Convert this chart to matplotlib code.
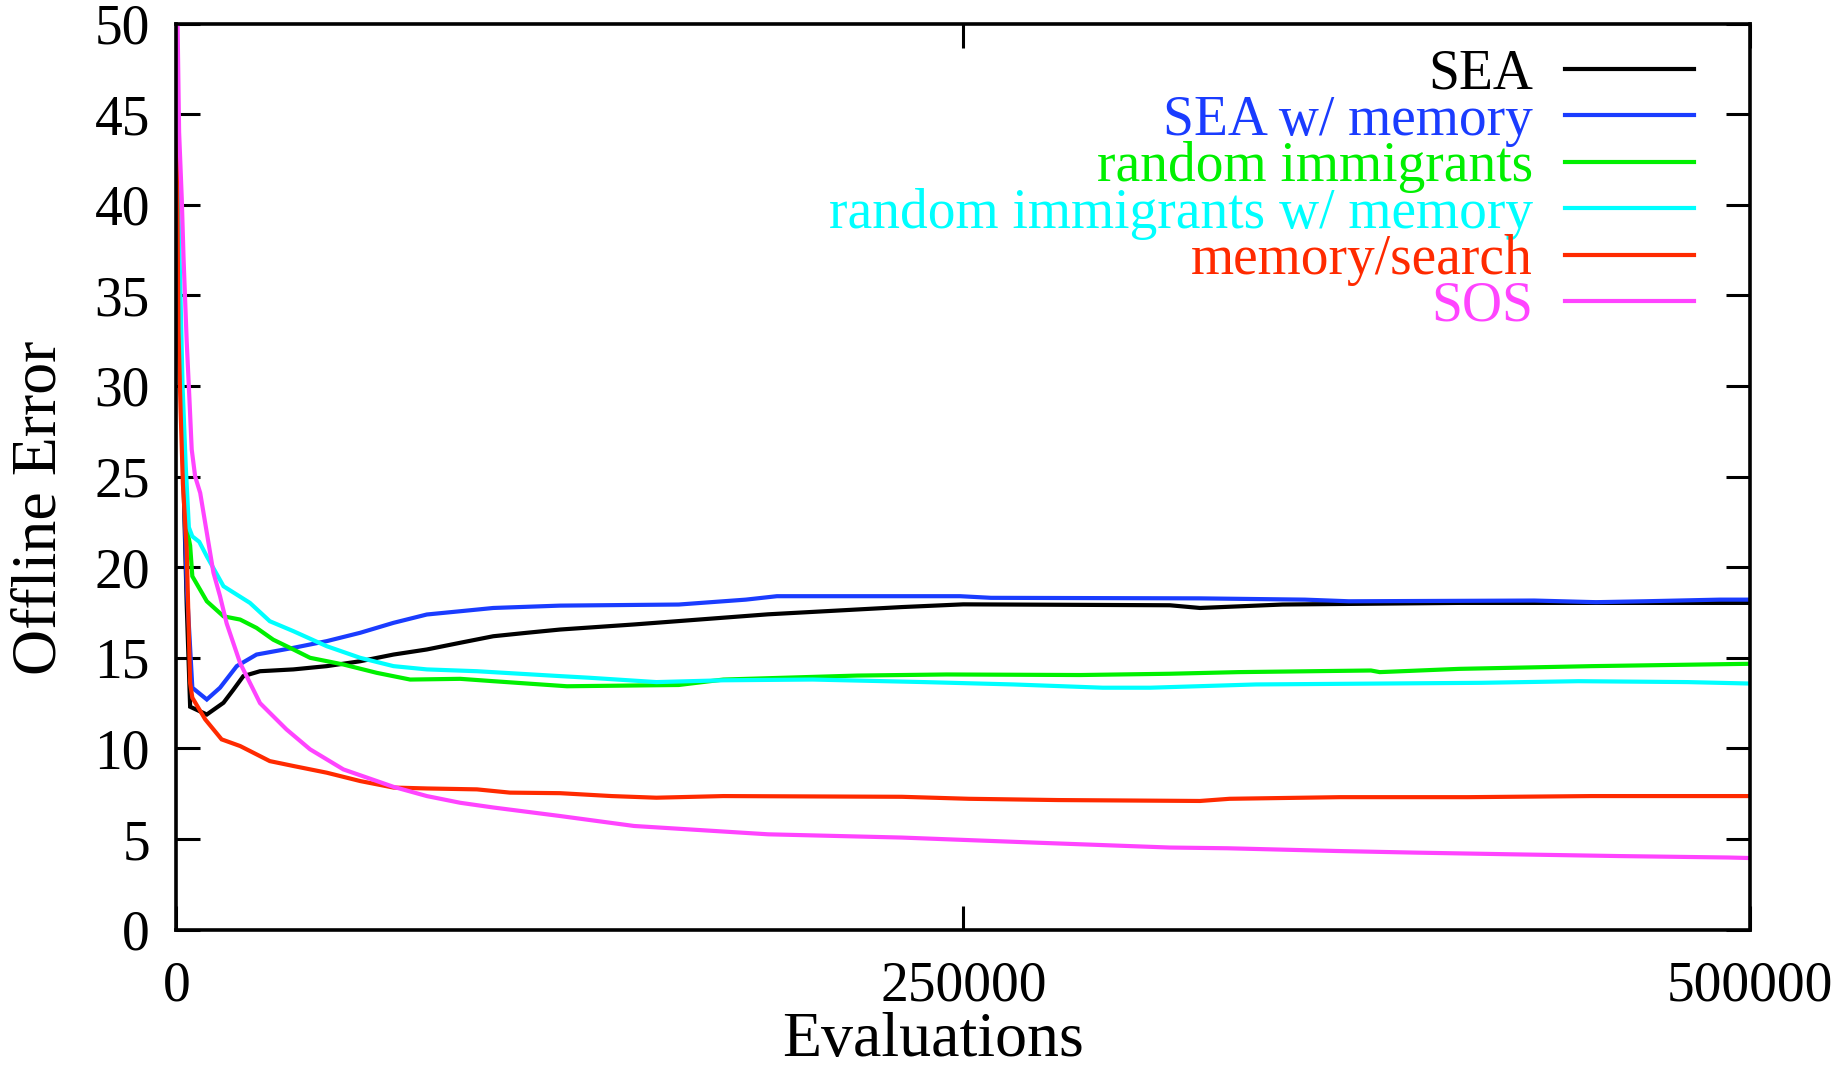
import numpy as np
import matplotlib
matplotlib.use("Agg")
from matplotlib import pyplot as plt

plt.rcParams['font.family'] = ['Liberation Serif', 'DejaVu Serif']

# offline error curves, sampled at uneven evaluation counts
sea_x = [0, 1500, 3300, 4400, 9700, 15000, 18100, 21300, 26600, 37200, 47800, 58400, 69000,
         79600, 90200, 100700, 111300, 121900, 145400, 188000, 230500, 250000, 315600, 325200,
         351400, 407500, 500000]
sea_y = [43, 30, 18, 12.3, 11.87, 12.52, 13.23, 13.99, 14.26, 14.36, 14.54, 14.81, 15.18,
         15.46, 15.83, 16.19, 16.38, 16.56, 16.84, 17.4, 17.8, 17.95, 17.9, 17.75,
         17.94, 18.03, 18.03]

mem_x = [0, 1500, 3300, 5100, 9700, 13900, 19200, 25500, 37200, 47800, 58400, 69000, 79600,
         90200, 100700, 121900, 159600, 180900, 190800, 249000, 258800, 325200, 358500,
         372500, 431400, 451000, 466400, 490300, 500000]
mem_y = [43, 30, 19, 13.35, 12.7, 13.35, 14.54, 15.18, 15.55, 15.92, 16.38, 16.93, 17.39,
         17.57, 17.75, 17.88, 17.94, 18.21, 18.4, 18.4, 18.31, 18.28, 18.21,
         18.12, 18.16, 18.07, 18.12, 18.21, 18.21]

ri_x = [0, 2000, 3500, 4400, 5100, 9700, 15000, 20300, 25500, 30800, 37200, 42500, 53100,
        63700, 74300, 90200, 100700, 124100, 159600, 173800, 216300, 244700, 287200,
        315600, 337400, 379500, 382300, 407500, 449600, 500000]
ri_y = [40, 28, 22, 21.2, 19.5, 18.12, 17.29, 17.11, 16.65, 16.0, 15.46, 15.0, 14.63,
        14.17, 13.8, 13.84, 13.71, 13.43, 13.5, 13.8, 14.02, 14.08, 14.05,
        14.12, 14.21, 14.30, 14.21, 14.39, 14.54, 14.67]

rim_x = [0, 2000, 3000, 4000, 5100, 7300, 9700, 15000, 23400, 29700, 37200, 47800, 58400,
         69000, 79600, 95500, 121900, 131200, 152500, 173800, 202100, 237600, 265900,
         294300, 309400, 343000, 414600, 445400, 480000, 500000]
rim_y = [45, 30, 25.6, 22.2, 21.7, 21.4, 20.6, 18.95, 18.03, 17.02, 16.47, 15.64, 15.0,
         14.54, 14.36, 14.26, 13.99, 13.9, 13.66, 13.76, 13.8, 13.66, 13.53,
         13.35, 13.35, 13.53, 13.62, 13.71, 13.66, 13.58]

ms_x = [0, 700, 1400, 2100, 3300, 4400, 5100, 9200, 14400, 20300, 24500, 29700, 37200,
        47800, 58400, 69000, 79600, 95500, 106000, 121900, 138300, 152500, 173800,
        230500, 251800, 280100, 325200, 334600, 369700, 410300, 449600, 500000]
ms_y = [47, 33, 28.5, 24.6, 21, 13.6, 12.8, 11.6, 10.5, 10.13, 9.76, 9.3, 9.03,
        8.66, 8.2, 7.84, 7.79, 7.74, 7.56, 7.53, 7.37, 7.28, 7.37,
        7.33, 7.22, 7.15, 7.1, 7.22, 7.31, 7.31, 7.37, 7.37]

sos_x = [0, 900, 1750, 2300, 2800, 3300, 4200, 4900, 6000, 7600, 9700, 11800, 13900, 16000,
         20300, 26600, 35000, 42500, 53100, 69000, 79600, 90200, 100700, 121900, 145400,
         188000, 230500, 273000, 315600, 333900, 368400, 393500, 423000, 458100, 493000, 500000]
sos_y = [55, 44, 40.3, 37.1, 34.8, 32.5, 29.2, 26.5, 25.0, 24.1, 21.9, 19.7, 18.4, 16.9,
         14.7, 12.5, 11.05, 9.95, 8.84, 7.88, 7.37, 7.0, 6.74, 6.27, 5.72,
         5.26, 5.08, 4.8, 4.53, 4.49, 4.34, 4.25, 4.16, 4.06, 3.98, 3.95]

series = [
    ("SEA", sea_x, sea_y, "#000000"),
    ("SEA w/ memory", mem_x, mem_y, "#1a3cff"),
    ("random immigrants", ri_x, ri_y, "#00f000"),
    ("random immigrants w/ memory", rim_x, rim_y, "#00ffff"),
    ("memory/search", ms_x, ms_y, "#ff2a00"),
    ("SOS", sos_x, sos_y, "#ff44ff"),
]

fig = plt.figure(figsize=(18.42, 10.71), dpi=100)
ax = fig.add_axes([0.0957, 0.132, 0.8545, 0.846])

for name, xs, ys, color in series:
    ax.plot(xs, ys, color=color, lw=3, label=name, solid_joinstyle='miter')

ax.set_xlim(0, 500000)
ax.set_ylim(0, 50)
ax.set_xticks([0, 250000, 500000])
ax.set_yticks(np.arange(0, 51, 5))
ax.tick_params(direction='in', length=17, width=2.2, top=True, right=True,
               labelsize=40)
ax.tick_params(axis='y', pad=19)
ax.tick_params(axis='x', pad=22)
for sp in ax.spines.values():
    sp.set_linewidth(2.6)

ax.set_xlabel("Evaluations", fontsize=46)
ax.set_ylabel("Offline Error", fontsize=46)
ax.xaxis.set_label_coords(0.481, -0.0907)
ax.yaxis.set_label_coords(-0.068, 0.466)

leg = ax.legend(loc='upper right', bbox_to_anchor=(0.9643, 0.9725), frameon=False,
                markerfirst=False, fontsize=40, handlelength=2.32, handletextpad=0.58,
                labelspacing=-0.10, borderpad=0, borderaxespad=0)
for text, line in zip(leg.get_texts(), leg.get_lines()):
    text.set_color(line.get_color())

fig.savefig("out.png", dpi=100)
